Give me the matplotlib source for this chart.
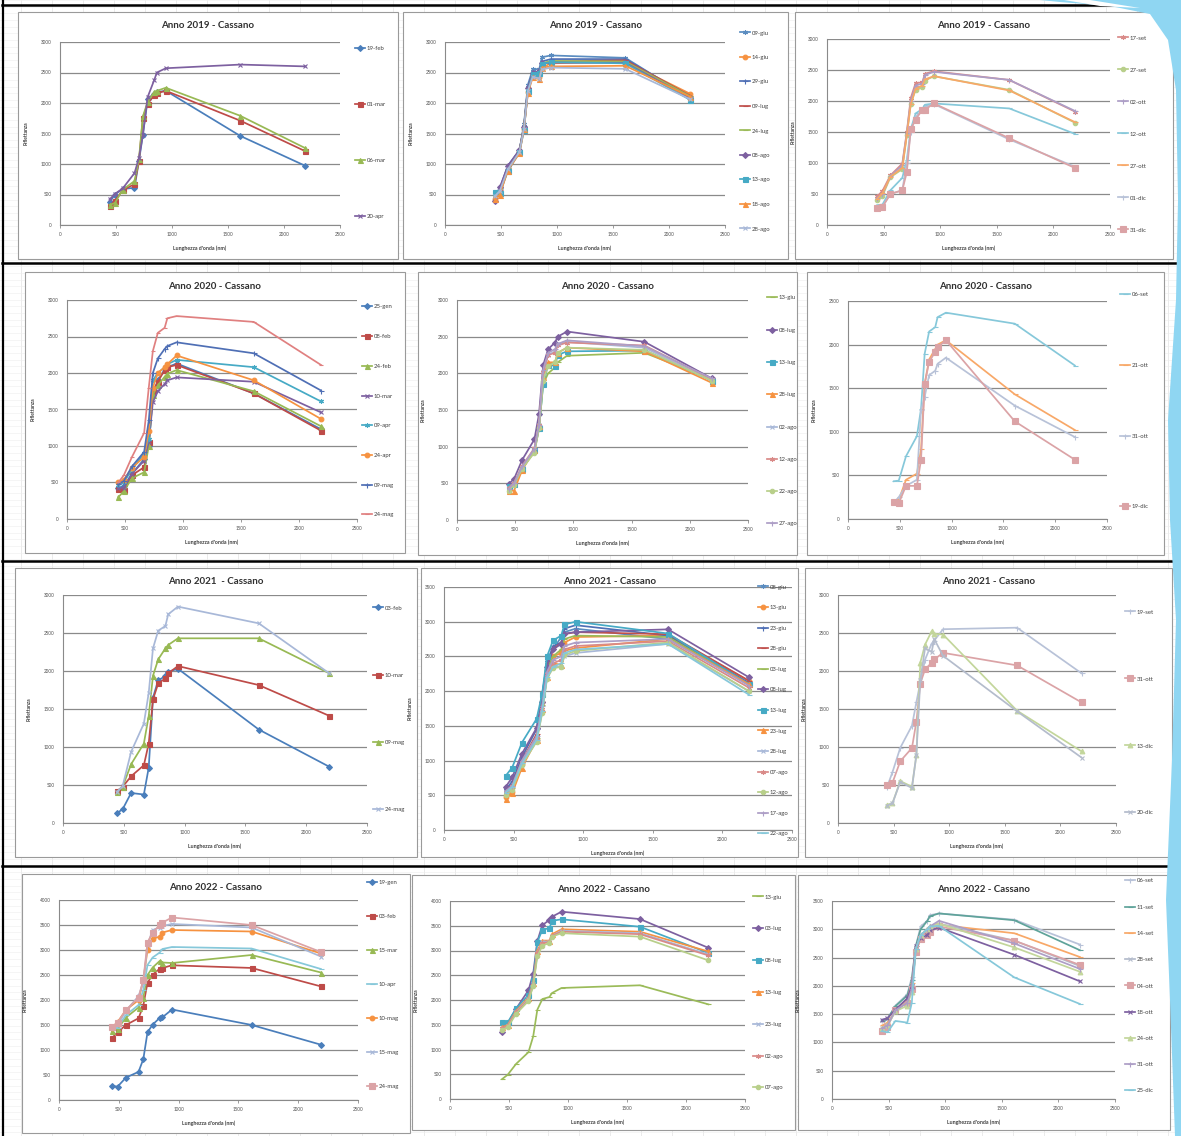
import matplotlib
matplotlib.use("Agg")
import matplotlib.pyplot as plt
from matplotlib.patches import Rectangle, Polygon
from matplotlib.lines import Line2D

plt.rcParams['font.family'] = ['Lato', 'DejaVu Sans']

W_PX, H_PX = 1181, 1136

# ---------------- DATA ----------------
wavelengths = [443, 490, 560, 665, 705, 740, 783, 842, 865, 945, 1610, 2190]

p1_title = "Anno 2019 - Cassano"
p1_dates = ["19-feb", "01-mar", "06-mar", "20-apr"]
p1_values = [
    [370, 500, 590, 610, 1050, 1480, 2060, 2150, 2180, 2200, 1460, 970],
    [310, 400, 570, 670, 1050, 1760, 1990, 2130, 2160, 2200, 1710, 1210],
    [330, 360, 580, 720, 1080, 1780, 2020, 2180, 2200, 2250, 1790, 1260],
    [420, 510, 600, 850, 1100, 1480, 2100, 2380, 2500, 2570, 2630, 2600],
]

p2_title = "Anno 2019 - Cassano"
p2_dates = ["09-giu", "14-giu", "29-giu", "09-lug", "24-lug", "08-ago", "13-ago", "18-ago", "28-ago"]
p2_values = [
    [530, 560, 950, 1220, 1650, 2300, 2550, 2560, 2750, 2780, 2740, 2080],
    [420, 520, 900, 1200, 1580, 2180, 2450, 2420, 2580, 2650, 2680, 2150],
    [500, 600, 970, 1230, 1620, 2250, 2500, 2500, 2680, 2720, 2720, 2100],
    [450, 580, 930, 1210, 1600, 2200, 2470, 2480, 2640, 2680, 2700, 2120],
    [470, 590, 940, 1220, 1610, 2220, 2480, 2490, 2650, 2690, 2680, 2110],
    [390, 620, 960, 1230, 1600, 2250, 2500, 2520, 2650, 2660, 2660, 2080],
    [540, 520, 880, 1190, 1550, 2200, 2480, 2500, 2640, 2670, 2650, 2050],
    [430, 500, 890, 1180, 1570, 2160, 2420, 2400, 2580, 2600, 2610, 2100],
    [470, 560, 910, 1200, 1580, 2200, 2430, 2400, 2550, 2580, 2560, 2060],
]

p3_title = "Anno 2019 - Cassano"
p3_dates = ["17-set", "27-set", "02-ott", "12-ott", "27-ott", "01-dic", "31-dic"]
p3_values = [
    [460, 550, 800, 990, 1500, 2050, 2290, 2300, 2440, 2480, 2340, 1830],
    [400, 470, 770, 900, 1450, 1950, 2180, 2230, 2330, 2400, 2180, 1650],
    [430, 500, 790, 960, 1480, 2000, 2250, 2280, 2420, 2470, 2340, 1840],
    [320, 330, 560, 760, 1050, 1550, 1800, 1870, 1940, 1960, 1880, 1470],
    [420, 510, 780, 920, 1450, 1950, 2200, 2250, 2350, 2400, 2170, 1660],
    [280, 300, 500, 560, 1000, 1500, 1750, 1850, 1900, 1950, 1380, 940],
    [280, 290, 500, 560, 850, 1550, 1700, 1860, 1860, 1960, 1400, 920],
]

p4_title = "Anno 2020 - Cassano"
p4_dates = ["25-gen", "08-feb", "24-feb", "10-mar", "09-apr", "24-apr", "09-mag", "24-mag"]
p4_values = [
    [430, 450, 620, 820, 1000, 1700, 1900, 2050, 2080, 2130, 1720, 1230],
    [410, 400, 600, 710, 1050, 1750, 1880, 2040, 2080, 2110, 1720, 1210],
    [300, 380, 560, 640, 1000, 1700, 1830, 1950, 1990, 2040, 1750, 1270],
    [420, 430, 620, 800, 1050, 1600, 1750, 1850, 1900, 1940, 1880, 1460],
    [460, 500, 680, 900, 1100, 1900, 2000, 2080, 2120, 2180, 2080, 1610],
    [500, 540, 700, 850, 1200, 1800, 2000, 2080, 2120, 2240, 1900, 1370],
    [480, 520, 720, 920, 1350, 2000, 2200, 2330, 2370, 2420, 2270, 1760],
    [500, 600, 850, 1180, 1800, 2300, 2550, 2620, 2750, 2780, 2700, 2110],
]

p5_title = "Anno 2020 - Cassano"
p5_dates = ["13-giu", "08-lug", "13-lug", "28-lug", "02-ago", "12-ago", "22-ago", "27-ago"]
p5_values = [
    [430, 490, 700, 930, 1250, 1850, 2000, 2080, 2150, 2240, 2280, 1920],
    [490, 560, 820, 1100, 1450, 2110, 2330, 2420, 2500, 2570, 2430, 1930],
    [460, 490, 700, 950, 1250, 1850, 2120, 2100, 2250, 2300, 2310, 1900],
    [400, 400, 680, 960, 1280, 1950, 2150, 2150, 2280, 2350, 2300, 1870],
    [430, 500, 720, 960, 1300, 2000, 2250, 2300, 2400, 2430, 2350, 1900],
    [440, 510, 740, 980, 1300, 2020, 2250, 2280, 2380, 2420, 2380, 1920],
    [400, 480, 700, 920, 1250, 1900, 2100, 2150, 2280, 2350, 2320, 1900],
    [420, 500, 730, 970, 1300, 2050, 2280, 2330, 2400, 2450, 2370, 1930],
]

p6_title = "Anno 2020 - Cassano"
p6_dates = ["06-set", "21-ott", "31-ott", "19-dic"]
p6_values = [
    [433, 440, 720, 950, 1264, 1895, 2150, 2200, 2315, 2366, 2240, 1760],
    [200, 220, 450, 520, 800, 1550, 1830, 1950, 2000, 2050, 1430, 1020],
    [190, 250, 380, 450, 1250, 1400, 1650, 1700, 1780, 1850, 1300, 940],
    [200, 180, 380, 380, 680, 1550, 1800, 1920, 1970, 2050, 1120, 680],
]

p7_title = "Anno 2021  - Cassano"
p7_dates = ["03-feb", "10-mar", "09-mag", "24-mag"]
p7_values = [
    [130, 180, 395, 375, 730, 1650, 1880, 1930, 1990, 2030, 1230, 740],
    [420, 475, 615, 760, 1046, 1626, 1837, 1903, 1969, 2065, 1815, 1410],
    [410, 475, 773, 1046, 1410, 1938, 2153, 2298, 2342, 2430, 2430, 1969],
    [410, 483, 936, 1309, 1713, 2298, 2531, 2592, 2746, 2847, 2627, 1969],
]

p8_title = "Anno 2021 - Cassano"
p8_dates = ["08-giu", "13-giu", "23-giu", "28-giu", "03-lug", "08-lug", "13-lug",
            "23-lug", "28-lug", "07-ago", "12-ago", "17-ago", "22-ago"]
p8_values = [
    [600, 650, 1000, 1350, 1900, 2450, 2600, 2780, 2850, 2900, 2750, 2100],
    [480, 550, 950, 1300, 1850, 2300, 2500, 2550, 2700, 2780, 2800, 2150],
    [580, 700, 1050, 1450, 1950, 2400, 2650, 2700, 2900, 2950, 2800, 2120],
    [550, 650, 1000, 1380, 1850, 2350, 2600, 2700, 2820, 2850, 2820, 2150],
    [520, 600, 980, 1330, 1800, 2300, 2500, 2600, 2750, 2800, 2780, 2100],
    [620, 760, 1100, 1470, 1850, 2350, 2600, 2680, 2830, 2850, 2890, 2200],
    [780, 900, 1260, 1600, 1960, 2500, 2730, 2800, 2960, 3000, 2830, 2100],
    [450, 530, 900, 1300, 1750, 2200, 2400, 2380, 2580, 2620, 2750, 2100],
    [520, 600, 950, 1280, 1700, 2200, 2350, 2350, 2500, 2550, 2680, 2000],
    [550, 630, 980, 1320, 1750, 2250, 2400, 2450, 2600, 2650, 2720, 2050],
    [500, 580, 940, 1270, 1680, 2180, 2330, 2350, 2520, 2580, 2700, 2000],
    [560, 640, 1000, 1350, 1780, 2280, 2450, 2500, 2650, 2700, 2750, 2080],
    [540, 620, 960, 1300, 1720, 2200, 2350, 2400, 2550, 2600, 2680, 1950],
]

p9_title = "Anno 2021 - Cassano"
p9_dates = ["19-set", "31-ott", "13-dic", "20-dic"]
p9_values = [
    [480, 670, 990, 1280, 1590, 1850, 2150, 2360, 2400, 2550, 2570, 1970],
    [500, 530, 813, 987, 1335, 1835, 2022, 2109, 2152, 2239, 2074, 1587],
    [240, 260, 552, 478, 891, 2109, 2348, 2522, 2490, 2480, 1478, 943],
    [230, 260, 540, 460, 900, 1880, 2300, 2250, 2420, 2200, 1470, 861],
]

p10_title = "Anno 2022 - Cassano"
p10_dates = ["19-gen", "03-feb", "15-mar", "10-apr", "10-mag", "15-mag", "24-mag"]
p10_values = [
    [281, 268, 449, 563, 818, 1354, 1508, 1642, 1655, 1810, 1501, 1106],
    [1240, 1354, 1501, 1635, 1890, 2346, 2507, 2627, 2641, 2694, 2641, 2272],
    [1380, 1420, 1650, 1850, 2050, 2500, 2650, 2780, 2750, 2740, 2900, 2550],
    [1400, 1450, 1700, 1900, 2200, 2700, 2850, 2950, 3020, 3060, 3030, 2620],
    [1450, 1560, 1800, 2000, 2400, 3000, 3220, 3270, 3350, 3400, 3370, 2930],
    [1450, 1500, 1780, 2080, 2350, 3100, 3400, 3450, 3480, 3520, 3450, 2870],
    [1460, 1550, 1800, 2050, 2400, 3150, 3350, 3500, 3550, 3650, 3500, 2960],
]

p11_title = "Anno 2022 - Cassano"
p11_dates = ["13-giu", "03-lug", "08-lug", "13-lug", "23-lug", "02-ago", "07-ago"]
p11_values = [
    [405, 493, 709, 946, 1264, 1804, 2020, 2060, 2142, 2243, 2297, 1912],
    [1351, 1534, 1824, 2196, 2534, 3189, 3514, 3615, 3683, 3784, 3635, 3054],
    [1550, 1550, 1830, 2100, 2400, 3170, 3420, 3450, 3600, 3630, 3480, 2950],
    [1450, 1500, 1780, 2050, 2350, 3000, 3200, 3200, 3330, 3430, 3380, 2980],
    [1420, 1480, 1760, 2020, 2320, 2950, 3180, 3180, 3300, 3400, 3350, 2920],
    [1430, 1480, 1750, 2000, 2300, 2950, 3150, 3170, 3300, 3380, 3330, 2900],
    [1400, 1450, 1720, 1980, 2280, 2880, 3100, 3150, 3280, 3350, 3280, 2800],
]

p12_title = "Anno 2022 - Cassano"
p12_dates = ["06-set", "11-set", "14-set", "28-set", "04-ott", "18-ott", "24-ott", "31-ott", "25-dic"]
p12_values = [
    [1400, 1400, 1650, 1850, 2150, 2700, 3050, 3150, 3250, 3280, 3170, 2730],
    [1380, 1420, 1640, 1830, 2100, 2700, 3000, 3150, 3230, 3280, 3160, 2630],
    [1300, 1350, 1550, 1750, 2050, 2600, 2850, 2950, 3000, 3080, 2930, 2510],
    [1250, 1300, 1550, 1720, 2000, 2600, 2850, 2950, 3000, 3100, 2800, 2350],
    [1200, 1280, 1580, 1700, 1950, 2600, 2830, 2900, 2950, 3050, 2800, 2370],
    [1400, 1430, 1580, 1780, 2000, 2700, 2850, 2900, 2980, 3030, 2550, 2080],
    [1250, 1300, 1550, 1650, 1900, 2650, 2900, 3000, 3050, 3100, 2680, 2250],
    [1250, 1300, 1570, 1700, 1950, 2650, 2900, 3000, 3050, 3150, 2750, 2300],
    [1200, 1180, 1380, 1350, 1700, 2650, 2900, 3000, 3050, 3060, 2150, 1680],
]

x_ticks = [0, 500, 1000, 1500, 2000, 2500]
x_label = "Lunghezza d'onda (nm)"
y_label = "Riflettanza"

# ---------------- STYLES ----------------
AST = (6, 2, 0)
S = {
    'blue': ('#4a7ebb', 'D', 3.0), 'red': ('#be4b48', 's', 3.6), 'green': ('#98b954', '^', 3.6),
    'purple': ('#7d60a0', 'x', 3.2), 'aqua': ('#46aac5', AST, 3.6), 'orange': ('#f69240', 'o', 3.4),
    'dblue': ('#4f6fb5', '+', 3.6), 'dred': ('#c0504d', '_', 3.6), 'dgreen': ('#9bbb59', '_', 3.6),
    'dpurple': ('#7d60a0', 'D', 3.0), 'daqua': ('#46aac5', 's', 3.6), 'dorange': ('#f69240', '^', 3.6),
    'lblue': ('#a8b8d8', 'x', 3.2), 'lred': ('#d98a88', AST, 3.6), 'lgreen': ('#b8cf8a', 'o', 3.2),
    'lpurple': ('#ad9ec6', '+', 3.6), 'laqua': ('#86c8da', '_', 3.6), 'lorange': ('#f8a868', '_', 3.6),
    'lblue2': ('#b8c2d8', '+', 3.6), 'lpink': ('#dba3a6', 's', 3.8), 'steel': ('#5a8cc0', AST, 3.6),
    'grey': ('#b4bccc', 'x', 3.2), 'teal': ('#5fa39a', '_', 3.6), 'lgtri': ('#c3d69b', '^', 3.4),
    'plain_pink': ('#e08080', '_', 3),
}

# box (x0,y0,x1,y1), plot (x_left, y_top, x_right, y_bottom), ymax, legend (x, ytop, ybot)
panels = [
    dict(title=p1_title, dates=p1_dates, values=p1_values, ymax=3000,
         box=(18, 12, 398, 259), plot=(60, 42, 340, 225), leg=(355, 49, 217),
         styles=['blue', 'red', 'green', 'purple']),
    dict(title=p2_title, dates=p2_dates, values=p2_values, ymax=3000,
         box=(403, 12, 788, 259), plot=(445, 42, 725, 225), leg=(740, 33, 229),
         styles=['steel', 'orange', 'dblue', 'dred', 'dgreen', 'dpurple', 'daqua', 'dorange', 'lblue']),
    dict(title=p3_title, dates=p3_dates, values=p3_values, ymax=3000,
         box=(795, 12, 1173, 259), plot=(827, 39, 1110, 225), leg=(1118, 38, 230),
         styles=['lred', 'lgreen', 'lpurple', 'laqua', 'lorange', 'lblue2', 'lpink']),
    dict(title=p4_title, dates=p4_dates, values=p4_values, ymax=3000,
         box=(25, 272, 405, 553), plot=(67, 300, 357, 519), leg=(362, 307, 515),
         styles=['blue', 'red', 'green', 'purple', 'aqua', 'orange', 'dblue', 'plain_pink']),
    dict(title=p5_title, dates=p5_dates, values=p5_values, ymax=3000,
         box=(418, 272, 797, 555), plot=(457, 300, 748, 520), leg=(767, 298, 524),
         styles=['dgreen', 'dpurple', 'daqua', 'dorange', 'lblue', 'lred', 'lgreen', 'lpurple']),
    dict(title=p6_title, dates=p6_dates, values=p6_values, ymax=2500,
         box=(807, 272, 1164, 555), plot=(848, 301, 1107, 519), leg=(1120, 295, 507),
         styles=['laqua', 'lorange', 'lblue2', 'lpink']),
    dict(title=p7_title, dates=p7_dates, values=p7_values, ymax=3000,
         box=(15, 568, 417, 857), plot=(63, 595, 367, 823), leg=(373, 608, 810),
         styles=['blue', 'red', 'green', 'lblue']),
    dict(title=p8_title, dates=p8_dates, values=p8_values, ymax=3500,
         box=(421, 568, 798, 857), plot=(444, 587, 792, 830), leg=(758, 587, 834),
         styles=['steel', 'orange', 'dblue', 'dred', 'dgreen', 'dpurple', 'daqua', 'dorange',
                 'lblue', 'lred', 'lgreen', 'lpurple', 'laqua']),
    dict(title=p9_title, dates=p9_dates, values=p9_values, ymax=3000,
         box=(805, 568, 1172, 857), plot=(838, 595, 1116, 823), leg=(1125, 612, 813),
         styles=['lblue2', 'lpink', 'lgtri', 'grey']),
    dict(title=p10_title, dates=p10_dates, values=p10_values, ymax=4000,
         box=(22, 874, 410, 1133), plot=(59, 900, 358, 1100), leg=(367, 883, 1087),
         styles=['blue', 'red', 'green', 'laqua', 'orange', 'lblue', 'lpink']),
    dict(title=p11_title, dates=p11_dates, values=p11_values, ymax=4000,
         box=(412, 875, 795, 1130), plot=(450, 901, 745, 1099), leg=(753, 897, 1088),
         styles=['dgreen', 'dpurple', 'daqua', 'dorange', 'lblue', 'lred', 'lgreen']),
    dict(title=p12_title, dates=p12_dates, values=p12_values, ymax=3500,
         box=(798, 875, 1170, 1130), plot=(832, 901, 1115, 1099), leg=(1125, 881, 1091),
         styles=['lblue2', 'teal', 'lorange', 'grey', 'lpink', 'purple', 'lgtri', 'lpurple', 'laqua']),
]


def fx(x):
    return x / W_PX


def fy(y):
    return 1 - y / H_PX


fig = plt.figure(figsize=(W_PX / 100, H_PX / 100), dpi=100)
fig.patch.set_facecolor('white')

# spreadsheet cell grid
k = 0
while 21 + 31 * k < W_PX:
    xx = 21 + 31 * k
    fig.add_artist(Line2D([fx(xx), fx(xx)], [0, 1], transform=fig.transFigure,
                          color='#e3e3e3', lw=0.5, zorder=-10))
    k += 1
k = 0
while 6.66 * k < H_PX:
    yy = 6.66 * k
    fig.add_artist(Line2D([0, 1], [fy(yy), fy(yy)], transform=fig.transFigure,
                          color='#eeeeee', lw=0.4, zorder=-10))
    k += 1

# black row borders
for yy in [5, 263, 561, 866]:
    fig.add_artist(Line2D([fx(2), 1], [fy(yy), fy(yy)], transform=fig.transFigure,
                          color='black', lw=1.8, zorder=5))
fig.add_artist(Line2D([fx(3), fx(3)], [0, 1], transform=fig.transFigure,
                      color='black', lw=1.6, zorder=5))

# decorative blue shape on right edge
blue_pts = [(1040, 0), (1181, 0), (1181, 1136), (1175, 1136), (1170, 1000), (1166, 900),
            (1172, 760), (1176, 620), (1170, 520), (1168, 420), (1176, 300), (1178, 200),
            (1176, 90), (1168, 40), (1150, 14), (1110, 6), (1060, 2)]
fig.add_artist(Polygon([(fx(a), fy(b)) for a, b in blue_pts], closed=True,
                       transform=fig.transFigure, facecolor='#8fd6f2', edgecolor='none', zorder=6))
inner_pts = [(1064, 0), (1090, 0), (1140, 8), (1100, 6)]
fig.add_artist(Polygon([(fx(a), fy(b)) for a, b in inner_pts], closed=True,
                       transform=fig.transFigure, facecolor='white', edgecolor='none', zorder=6))

LEG_FS = 4.3
FS_PX = LEG_FS * 100 / 72
legends = []
axes = []
for p in panels:
    bx0, by0, bx1, by1 = p['box']
    fig.add_artist(Rectangle((fx(bx0), fy(by1)), fx(bx1 - bx0), (by1 - by0) / H_PX,
                             transform=fig.transFigure, facecolor='white',
                             edgecolor='#9a9a9a', lw=0.8, zorder=-5))
    px0, py0, px1, py1 = p['plot']
    ax = fig.add_axes([fx(px0), fy(py1), (px1 - px0) / W_PX, (py1 - py0) / H_PX])
    ax.set_facecolor('none')
    handles = []
    for vals, lab, st in zip(p['values'], p['dates'], p['styles']):
        c, m, ms = S[st]
        h, = ax.plot(wavelengths, vals, color=c, lw=1.25, marker=m if m else None,
                     ms=ms, mec=c, mfc=c, mew=0.8, label=lab)
        handles.append(h)
    ax.set_xlim(0, 2500)
    ax.set_ylim(0, p['ymax'])
    ax.set_xticks(x_ticks)
    ax.set_yticks(list(range(0, p['ymax'] + 1, 500)))
    ax.yaxis.grid(True, color='#8a8a8a', lw=0.9)
    ax.set_axisbelow(True)
    for s in ['top', 'right']:
        ax.spines[s].set_visible(False)
    for s in ['left', 'bottom']:
        ax.spines[s].set_color('#8a8a8a')
        ax.spines[s].set_linewidth(0.8)
    ax.tick_params(axis='x', labelsize=3.3, colors='#8a8a8a', labelcolor='#505050',
                   length=2, width=0.6, pad=3)
    ax.tick_params(axis='y', labelsize=3.3, colors='#8a8a8a', labelcolor='#505050',
                   length=0, pad=6)
    ax.set_xlabel(x_label, fontsize=3.8, fontweight='bold', color='#404040', labelpad=6)
    ax.set_ylabel(y_label, fontsize=3.5, fontweight='bold', color='#404040', labelpad=9)
    fig.text(fx((bx0 + bx1) / 2), fy(by0 + 14), p['title'], ha='center', va='center',
             fontsize=7, fontweight='bold', color='#303030')
    lx, lt, lb = p['leg']
    leg = ax.legend(handles=handles, loc='upper left', bbox_to_anchor=(fx(lx), fy(lt)),
                    bbox_transform=fig.transFigure, frameon=False, borderpad=0,
                    borderaxespad=0, handlelength=1.7, handletextpad=0.25,
                    fontsize=LEG_FS, labelspacing=0, labelcolor='#404040')
    legends.append(leg)
    axes.append(ax)

# fit legend spacing to span target heights
fig.canvas.draw()
r = fig.canvas.get_renderer()
for i, (p, leg) in enumerate(zip(panels, legends)):
    texts = leg.get_texts()
    n = len(texts)
    c0 = texts[0].get_window_extent(r)
    cn = texts[-1].get_window_extent(r)
    p0 = ((c0.y0 + c0.y1) / 2 - (cn.y0 + cn.y1) / 2) / (n - 1)
    lx, lt, lb = p['leg']
    target = (lb - lt) / (n - 1)
    ls = max(0.0, (target - p0) / FS_PX)
    ax = axes[i]
    leg.remove()
    leg = ax.legend(handles=list(ax.get_lines()), loc='upper left',
                    bbox_to_anchor=(fx(lx), fy(lt)),
                    bbox_transform=fig.transFigure, frameon=False, borderpad=0,
                    borderaxespad=0, handlelength=1.7, handletextpad=0.25,
                    fontsize=LEG_FS, labelspacing=ls, labelcolor='#404040')
    legends[i] = leg

fig.canvas.draw()
r = fig.canvas.get_renderer()
for p, leg in zip(panels, legends):
    t0 = leg.get_texts()[0].get_window_extent(r)
    cy = H_PX - (t0.y0 + t0.y1) / 2
    lx, lt, lb = p['leg']
    delta = lt - cy
    leg.set_bbox_to_anchor((fx(lx), fy(lt + delta)), transform=fig.transFigure)

fig.savefig('out.png', dpi=100)
